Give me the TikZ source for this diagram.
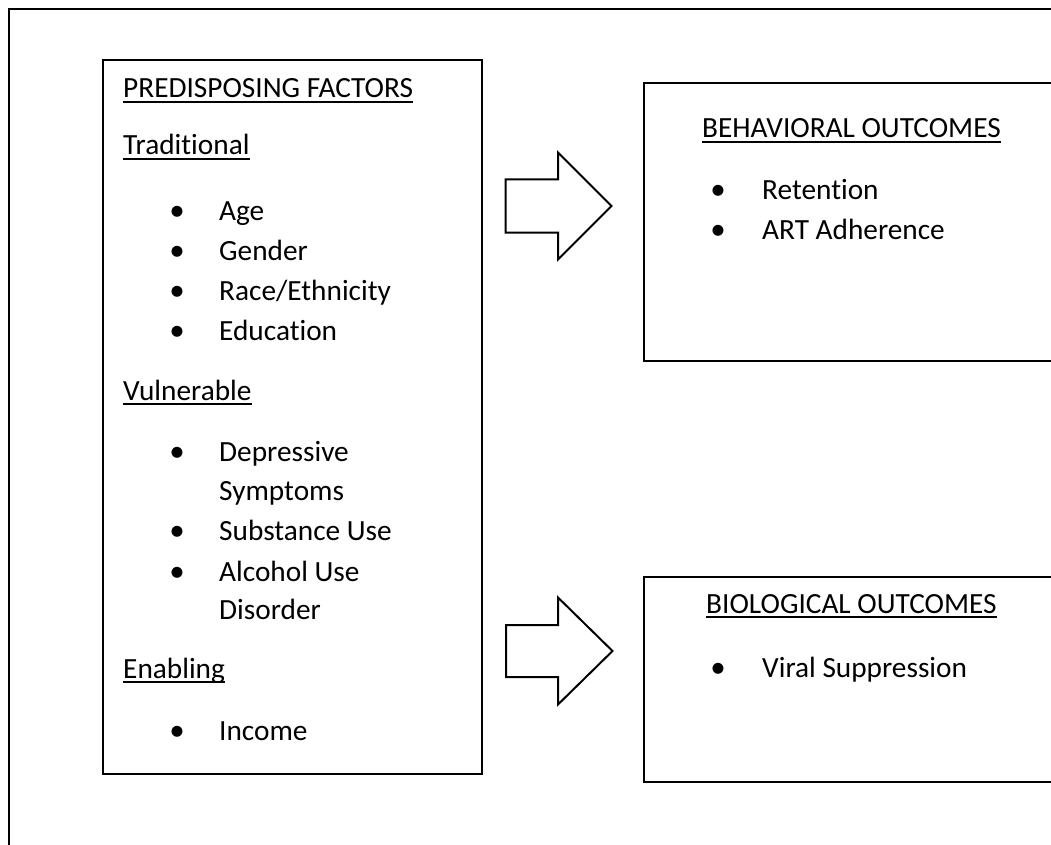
\documentclass[tikz,border=0pt]{standalone}
\usepackage{fontspec}
\setmainfont{Carlito}[Ligatures=NoCommon]
\begin{document}
\begin{tikzpicture}[x=1pt,y=-1pt,
  line join=miter,
  box/.style={draw=black,line width=2pt,minimum width=#1,anchor=north west,inner sep=0pt},
  txt/.style={anchor=base west,inner sep=0pt,font=\fontsize{29.3}{40}\selectfont},
  bul/.style={anchor=base,inner sep=0pt,font=\fontsize{31}{40}\selectfont},
  uline/.style={line width=1.6pt},
  blockarrow/.style={draw=black,line width=2pt,fill=white}]
\useasboundingbox (0,0) rectangle (1051,845);
\clip (0,0) rectangle (1051,845);
\fill[white] (0,0) rectangle (1051,845);
% outer frame
\coordinate (fbl) at (9,850);
\coordinate (ftl) at (9,9);
\coordinate (ftr) at (1060,9);
\draw[line width=2pt] (fbl) -- (ftl) -- (ftr);
% boxes
\node[box=379pt,minimum height=713pt] (pre) at (102,59.5) {};
\node[box=430pt,minimum height=278pt] (beh) at (643,82) {};
\node[box=430pt,minimum height=205pt] (bio) at (643,575.5) {};
% block arrows
\draw[blockarrow] (505.5,179.5) -- (558,179.5) -- (558,152.5) -- (611.5,206) -- (558,259.5) -- (558,232.5) -- (505.5,232.5) -- cycle;
\draw[blockarrow] (506,625) -- (558,625) -- (558,597.5) -- (612.5,651) -- (558,704.5) -- (558,677) -- (506,677) -- cycle;
% left box texts
\node[txt] (h1) at (123,98) {PREDISPOSING FACTORS};
\draw[uline] ([yshift=-4pt]h1.base west) -- ([yshift=-4pt]h1.base east);
\node[txt] (h2) at (123,155) {Traditional};
\draw[uline] ([yshift=-4pt]h2.base west) -- ([yshift=-4pt]h2.base east);
\node[bul] (b1) at (177,220) {•}; \node[txt] (t1) at (219,220) {Age};
\node[bul] (b2) at (177,260) {•}; \node[txt] (t2) at (219,260) {Gender};
\node[bul] (b3) at (177,300) {•}; \node[txt] (t3) at (219,300) {Race/Ethnicity};
\node[bul] (b4) at (177,340) {•}; \node[txt] (t4) at (219,340) {Education};
\node[txt] (h3) at (123,400) {Vulnerable};
\draw[uline] ([yshift=-4pt]h3.base west) -- ([yshift=-4pt]h3.base east);
\node[bul] (b5) at (177,461) {•}; \node[txt] (t5) at (219,461) {Depressive};
\node[txt] (t5b) at (219,500) {Symptoms};
\node[bul] (b6) at (177,540) {•}; \node[txt] (t6) at (219,540) {Substance Use};
\node[bul] (b7) at (177,581) {•}; \node[txt] (t7) at (219,581) {Alcohol Use};
\node[txt] (t7b) at (219,619) {Disorder};
\node[txt] (h4) at (123,678) {Enabling};
\draw[uline] ([yshift=-4pt]h4.base west) -- ([yshift=-4pt]h4.base east);
\node[bul] (b8) at (177,740) {•}; \node[txt] (t8) at (219,740) {Income};
% behavioral
\node[txt] (h5) at (702,138) {BEHAVIORAL OUTCOMES};
\draw[uline] ([yshift=-4pt]h5.base west) -- ([yshift=-4pt]h5.base east);
\node[bul] (b9) at (718,199) {•}; \node[txt] (t9) at (762,199) {Retention};
\node[bul] (b10) at (718,239) {•}; \node[txt] (t10) at (762,239) {ART Adherence};
% biological
\node[txt] (h6) at (706,613) {BIOLOGICAL OUTCOMES};
\draw[uline] ([yshift=-4pt]h6.base west) -- ([yshift=-4pt]h6.base east);
\node[bul] (b11) at (718,677) {•}; \node[txt] (t11) at (762,677) {Viral Suppression};
\end{tikzpicture}
\end{document}
